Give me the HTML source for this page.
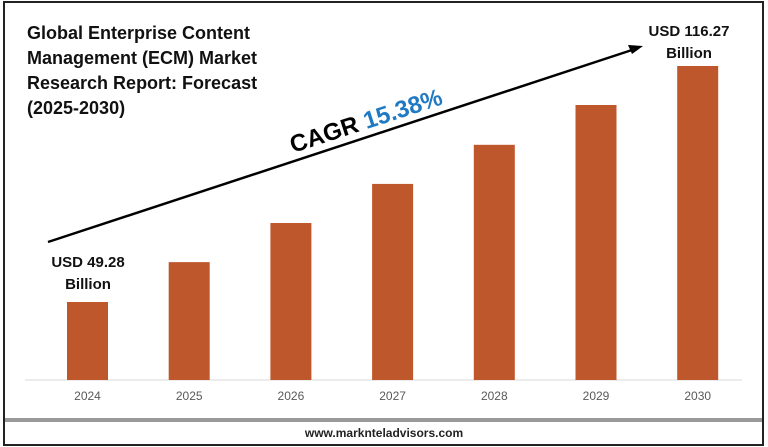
<!DOCTYPE html>
<html><head><meta charset="utf-8"><style>
body{margin:0;background:#fff;}
svg{display:block;font-family:"Liberation Sans",sans-serif;}
</style></head><body>
<svg id="c" width="768" height="447" viewBox="0 0 768 447">
<rect x="4" y="2" width="759" height="443" fill="#fff" stroke="#222" stroke-width="2"/>
<g font-weight="bold" font-size="18" fill="#111">
<text x="27" y="39">Global Enterprise Content</text>
<text x="27" y="64">Management (ECM) Market</text>
<text x="27" y="89">Research Report: Forecast</text>
<text x="27" y="114">(2025-2030)</text>
</g>
<line x1="25" y1="380" x2="742" y2="380" stroke="#d9d9d9" stroke-width="1"/>
<g id="bars"></g>
<g id="xt" font-size="12" fill="#595959" text-anchor="middle"></g>
<line x1="48" y1="242" x2="632" y2="50" stroke="#000" stroke-width="2.5"/>
<polygon points="643,46 628,45 632,54" fill="#000"/>
<text transform="translate(293,153) rotate(-18)" font-size="24" font-weight="bold"><tspan fill="#000">CAGR </tspan><tspan fill="#1f7ac3">15.38%</tspan></text>
<g font-weight="bold" font-size="15" fill="#111" text-anchor="middle">
<text x="88" y="267">USD 49.28</text><text x="88" y="289">Billion</text></g>
<g font-weight="bold" font-size="15" fill="#111" text-anchor="middle">
<text x="689" y="36">USD 116.27</text><text x="689" y="58">Billion</text></g>
<rect x="5" y="418" width="757" height="4" fill="#9a9a9a"/>
<text x="384" y="437" font-size="12" font-weight="bold" text-anchor="middle" fill="#222">www.marknteladvisors.com</text>
</svg>
<script>
const categories=["2024","2025","2026","2027","2028","2029","2030"];
const values=[49.28,60.6,71.7,82.8,93.9,105.2,116.27];
const yMin=27.14, pxPerUnit=3.523, base=380;
function y(v){return base-(v-yMin)*pxPerUnit;}
function x(i){return 87.5+i*101.7;}
const ns="http://www.w3.org/2000/svg";
const bars=document.getElementById('bars'), xt=document.getElementById('xt');
categories.forEach((c,i)=>{
 const r=document.createElementNS(ns,'rect');
 r.setAttribute('x',x(i)-20.5);r.setAttribute('width',41);
 r.setAttribute('y',y(values[i]));r.setAttribute('height',base-y(values[i]));
 r.setAttribute('fill','#bf572c');
 
 
 bars.appendChild(r);
 const t=document.createElementNS(ns,'text');
 t.setAttribute('x',x(i));t.setAttribute('y',400);t.textContent=c;
 
 
 xt.appendChild(t);
});
</script>
</body></html>
